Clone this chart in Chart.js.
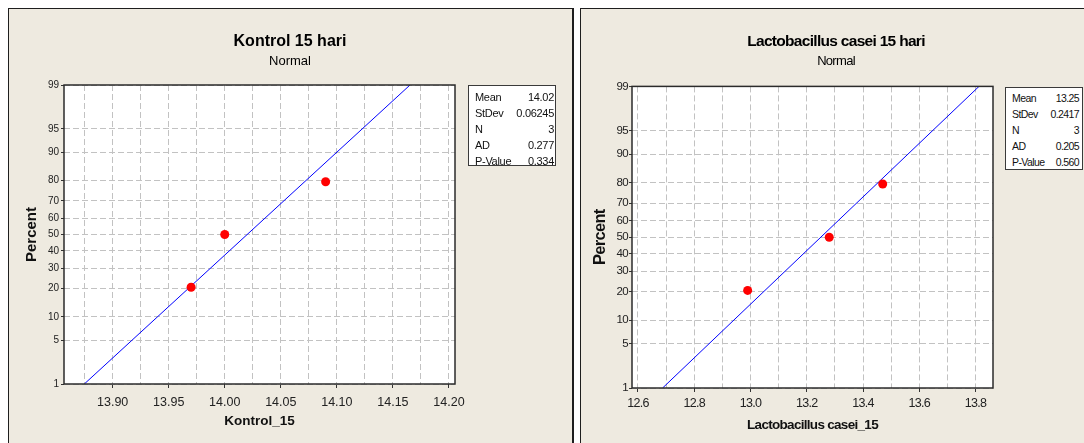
<!DOCTYPE html>
<html>
<head>
<meta charset="utf-8">
<script src="https://cdn.jsdelivr.net/npm/chart.js@4.4.1/dist/chart.umd.min.js"></script>
<style>
  html, body { margin: 0; padding: 0; background: #fff; }
  body { width: 1084px; height: 443px; position: relative; overflow: hidden; }
  .panel { position: absolute; top: 8px; height: 460px; background: #EEEAE0; border: 1px solid #1e1e1e; box-sizing: border-box; }
  #panelA { left: 8px; width: 566px; border-right-width: 2px; }
  #panelB { left: 580px; width: 530px; }
  canvas { position: absolute; top: 8px; }
  #chartA { left: 8px; }
  #chartB { left: 580px; }
  .stats { position: absolute; background: #fff; border: 1px solid #3a3a3a; box-sizing: border-box; color: #111; }
  .stats div { display: flex; justify-content: space-between; height: 16px; line-height: 16px; }
  #statsA { left: 468px; top: 85px; width: 88px; height: 81px; padding: 3px 1px 0 6px; font: 11px 'Liberation Sans', sans-serif; letter-spacing: -0.3px; }
  #statsB { left: 1005px; top: 87px; width: 78px; height: 83px; padding: 2px 3px 0 6px; font: 10.5px 'Liberation Sans', sans-serif; letter-spacing: -0.6px; }
</style>
</head>
<body>
<div class="panel" id="panelA"></div>
<div class="panel" id="panelB"></div>
<canvas id="chartA" width="564" height="435"></canvas>
<canvas id="chartB" width="504" height="435"></canvas>
<div class="stats" id="statsA"></div>
<div class="stats" id="statsB"></div>
<script>
// data
const kontrolValues = [13.97, 14.00, 14.09];
const caseiValues = [12.99, 13.28, 13.47];
const rankPct = [20.6, 50, 79.4];          // median ranks for n = 3
const fitPct = [1, 99];                     // fitted line drawn across the plot
const pctTicks = [1, 5, 10, 20, 30, 40, 50, 60, 70, 80, 90, 95, 99];
const kontrolTicks = [13.90, 13.95, 14.00, 14.05, 14.10, 14.15, 14.20];
const kontrolGrid = [13.875, 13.925, 13.975, 14.025, 14.075, 14.125, 14.175];
const caseiTicks = [12.6, 12.8, 13.0, 13.2, 13.4, 13.6, 13.8];
const caseiGrid = [12.7, 12.9, 13.1, 13.3, 13.5, 13.7];
const statLabels = ["Mean", "StDev", "N", "AD", "P-Value"];
const kontrolStats = ["14.02", "0.06245", "3", "0.277", "0.334"];
const caseiStats = ["13.25", "0.2417", "3", "0.205", "0.560"];

const SANS = "'Liberation Sans', Arial, sans-serif";

// inverse normal cdf (Acklam)
function probit(p) {
  const a = [-3.969683028665376e+01, 2.209460984245205e+02, -2.759285104469687e+02, 1.383577518672690e+02, -3.066479806614716e+01, 2.506628277459239e+00];
  const b = [-5.447609879822406e+01, 1.615858368580409e+02, -1.556989798598866e+02, 6.680131188771972e+01, -1.328068155288572e+01];
  const c = [-7.784894002430293e-03, -3.223964580411365e-01, -2.400758277161838e+00, -2.549732539343734e+00, 4.374664141464968e+00, 2.938163982698783e+00];
  const d = [7.784695709041462e-03, 3.224671290700398e-01, 2.445134137142996e+00, 3.754408661907416e+00];
  const lo = 0.02425;
  let q, r;
  if (p < lo) {
    q = Math.sqrt(-2 * Math.log(p));
    return (((((c[0]*q+c[1])*q+c[2])*q+c[3])*q+c[4])*q+c[5]) / ((((d[0]*q+d[1])*q+d[2])*q+d[3])*q+1);
  }
  if (p > 1 - lo) {
    q = Math.sqrt(-2 * Math.log(1 - p));
    return -(((((c[0]*q+c[1])*q+c[2])*q+c[3])*q+c[4])*q+c[5]) / ((((d[0]*q+d[1])*q+d[2])*q+d[3])*q+1);
  }
  q = p - 0.5; r = q * q;
  return (((((a[0]*r+a[1])*r+a[2])*r+a[3])*r+a[4])*r+a[5])*q / (((((b[0]*r+b[1])*r+b[2])*r+b[3])*r+b[4])*r+1);
}

const zTop = probit(0.99);

// white plot area + dark frame, like minitab
const framePlugin = {
  id: 'frame',
  beforeDraw(chart) {
    const {ctx, chartArea: a} = chart;
    ctx.save();
    ctx.fillStyle = '#fff';
    ctx.fillRect(a.left, a.top, a.right - a.left, a.bottom - a.top);
    ctx.restore();
  },
  afterDraw(chart) {
    const {ctx, chartArea: a} = chart;
    ctx.save();
    ctx.strokeStyle = '#2b2b2b';
    ctx.lineWidth = 1.5;
    ctx.strokeRect(a.left, a.top, a.right - a.left, a.bottom - a.top);
    ctx.restore();
  }
};

function probPlot(id, o) {
  const mean = parseFloat(o.stats[0]);
  const sd = parseFloat(o.stats[1]);
  const xTicks = o.ticks.concat(o.grid).sort((p, q) => p - q);
  const isMajor = v => o.ticks.some(t => Math.abs(t - v) < 1e-9);

  // the right hand graph has tighter lettering
  const spacing = {
    id: 'spacing',
    beforeDraw(chart) { chart.ctx.letterSpacing = o.spacing; }
  };

  return new Chart(document.getElementById(id), {
    data: {
      datasets: [
        {
          type: 'scatter',
          data: o.values.map((v, i) => ({x: v, y: probit(rankPct[i] / 100)})),
          backgroundColor: '#ff0000',
          borderWidth: 0,
          pointRadius: 4.5
        },
        {
          type: 'line',
          data: fitPct.map(p => ({x: mean + sd * probit(p / 100), y: probit(p / 100)})),
          borderColor: '#0000ff',
          borderWidth: 1,
          pointRadius: 0,
          fill: false
        }
      ]
    },
    options: {
      responsive: false,
      animation: false,
      devicePixelRatio: 1,
      layout: {padding: {left: o.padLeft, right: 0, top: 0, bottom: 0}},
      plugins: {
        legend: {display: false},
        tooltip: {enabled: false},
        title: {
          display: true, text: o.title, color: '#000',
          font: {family: SANS, size: o.titleSize, weight: 'bold'},
          padding: {top: 24.4, bottom: 0}
        },
        subtitle: {
          display: true, text: 'Normal', color: '#000',
          font: {family: SANS, size: o.subSize},
          padding: {top: o.subTop, bottom: o.subBottom}
        }
      },
      scales: {
        x: {
          type: 'linear', position: 'bottom',
          min: o.xMin, max: o.xMax,
          afterBuildTicks: s => { s.ticks = xTicks.map(v => ({value: v})); },
          afterFit: s => { s.height = o.xHeight; },
          ticks: {
            autoSkip: false, maxRotation: 0, color: '#222',
            padding: o.xTickPad,
            font: {family: SANS, size: o.xTickSize},
            callback: v => isMajor(v) ? v.toFixed(o.decimals) : ''
          },
          grid: {
            color: '#c2c2c2', tickLength: 4,
            tickColor: c => (c.tick && isMajor(c.tick.value)) ? '#333' : 'rgba(0,0,0,0)'
          },
          border: {display: false, dash: [6, 3]},
          title: {
            display: true, text: o.xTitle, color: '#111',
            font: {family: SANS, size: o.xTitleSize, weight: 'bold'},
            padding: {top: 0, bottom: o.xTitlePad}
          }
        },
        y: {
          type: 'linear', position: 'left',
          min: -zTop, max: zTop,
          afterBuildTicks: s => { s.ticks = pctTicks.map(p => ({value: probit(p / 100)})); },
          afterFit: s => { s.width = o.yWidth; },
          ticks: {
            autoSkip: false, color: '#222', padding: o.yTickPad,
            font: {family: SANS, size: o.yTickSize},
            callback: (v, i) => String(pctTicks[i])
          },
          grid: {color: '#c2c2c2', tickLength: 3, tickColor: '#333'},
          border: {display: false, dash: [6, 3]},
          title: {
            display: true, text: 'Percent', color: '#111',
            font: {family: SANS, size: o.yTitleSize, weight: 'bold'},
            padding: {top: o.yTitlePad, bottom: 0}
          }
        },
        side: {
          // empty right box, leaves room for the stats table
          type: 'linear', position: 'right',
          grid: {display: false}, ticks: {display: false}, border: {display: false},
          afterFit: s => { s.width = o.sideWidth; }
        }
      }
    },
    plugins: [spacing, framePlugin]
  });
}

function statsBox(id, values) {
  const box = document.getElementById(id);
  box.innerHTML = statLabels.map((l, i) => `<div><span>${l}</span><span>${values[i]}</span></div>`).join('');
}

probPlot('chartA', {
  title: 'Kontrol 15 hari', titleSize: 16, subSize: 13, subTop: 1.6, subBottom: 16.2, spacing: '0px',
  values: kontrolValues, stats: kontrolStats, ticks: kontrolTicks, grid: kontrolGrid, decimals: 2,
  xMin: 13.8566, xMax: 14.2054, xHeight: 59, xTickPad: 7, xTickSize: 12.5,
  xTitle: 'Kontrol_15', xTitleSize: 13.5, xTitlePad: 13.7,
  padLeft: 0, yWidth: 56, yTickPad: 2, yTickSize: 10, yTitleSize: 15, yTitlePad: 15, sideWidth: 117
});

probPlot('chartB', {
  title: 'Lactobacillus casei 15 hari', titleSize: 15.5, subSize: 13, subTop: 2.5, subBottom: 17.3, spacing: '-0.7px',
  values: caseiValues, stats: caseiStats, ticks: caseiTicks, grid: caseiGrid, decimals: 1,
  xMin: 12.579, xMax: 13.862, xHeight: 55, xTickPad: 4.5, xTickSize: 12.5,
  xTitle: 'Lactobacillus casei_15', xTitleSize: 13.5, xTitlePad: 9.5,
  padLeft: 8, yWidth: 44, yTickPad: 1, yTickSize: 11.5, yTitleSize: 16.5, yTitlePad: 2.5, sideWidth: 91
});

statsBox('statsA', kontrolStats);
statsBox('statsB', caseiStats);
</script>
</body>
</html>
